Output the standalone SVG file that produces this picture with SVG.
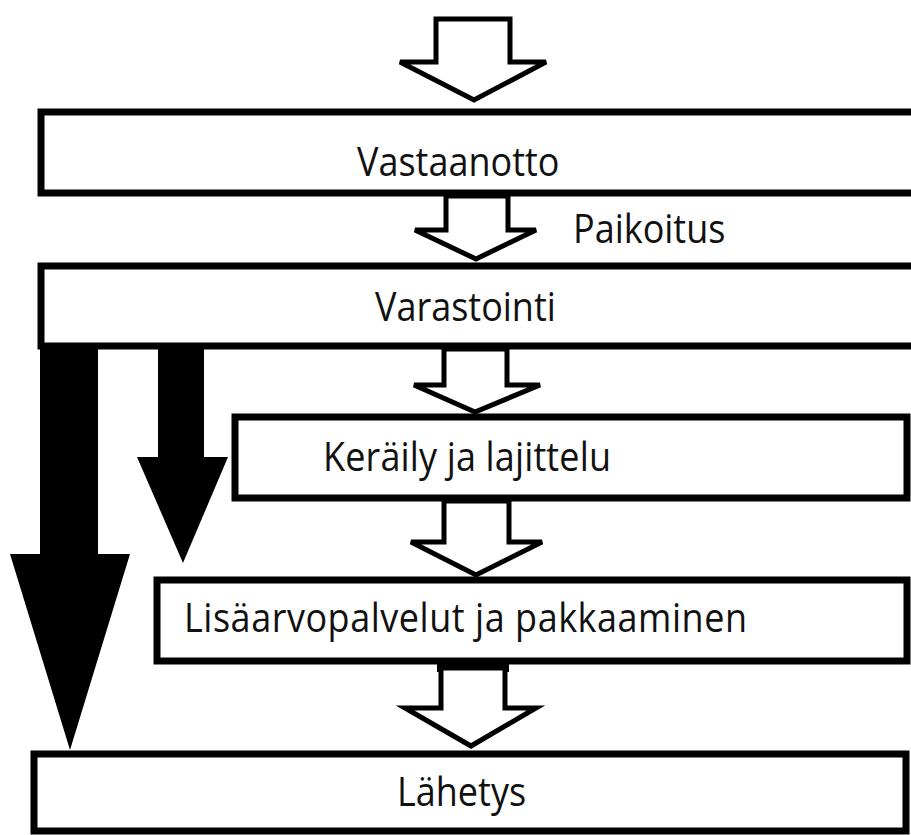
<svg xmlns="http://www.w3.org/2000/svg" width="911" height="835" viewBox="0 0 911 835">
<style>
.box{fill:#fff;stroke:#000;stroke-width:7}
.lbl{font-family:"Open Sans","Noto Sans","Liberation Sans",sans-serif;font-size:36px;fill:#111}
.hollow{fill:#fff;stroke:#000;stroke-width:5;stroke-linejoin:miter}
.solid{fill:#000;stroke:none}
</style>
<rect width="911" height="835" fill="#fff"/>
<g id="n-vastaanotto">
<rect class="box" x="41" y="112" width="880" height="81"/>
<text class="lbl" transform="translate(357,176) scale(1,1.1)">Vastaanotto</text>
</g>
<g id="n-varastointi">
<rect class="box" x="41" y="266" width="880" height="80"/>
<text class="lbl" transform="translate(375,321) scale(1,1.1)">Varastointi</text>
</g>
<g id="n-keraily">
<rect class="box" x="235" y="417" width="672" height="81"/>
<text class="lbl" transform="translate(323,471) scale(1,1.1)" textLength="288">Keräily ja lajittelu</text>
</g>
<g id="n-lisaarvo">
<rect class="box" x="157" y="580" width="750" height="81"/>
<text class="lbl" transform="translate(184,632) scale(1,1.1)" textLength="563">Lisäarvopalvelut ja pakkaaminen</text>
</g>
<g id="n-lahetys">
<rect class="box" x="34" y="754" width="872" height="77"/>
<text class="lbl" transform="translate(397,806) scale(1,1.1)">Lähetys</text>
</g>
<g id="connectors">
<polygon class="hollow" points="436,19 510,19 510,62 546,62 474,100 400,62 436,62"/>
<polygon class="hollow" points="446,196 508,196 508,230 536,230 476,259 415,230 446,230"/>
<polygon class="hollow" points="444,349 507,349 507,385 540,385 475,412 414,385 444,385"/>
<polygon class="hollow" points="444,501 509,501 509,542 542,542 476,575 411,542 444,542"/>
<rect class="solid" x="437" y="661" width="72" height="11"/>
<polygon class="hollow" points="441,668 505,668 505,708 536,708 471,746 405,708 441,708"/>
<text class="lbl" transform="translate(573,243) scale(1,1.1)">Paikoitus</text>
<polygon class="solid" points="40,348 98,348 98,554 130,554 70,750 10,554 40,554"/>
<polygon class="solid" points="158,348 204,348 204,457 228,457 183,563 137,457 158,457"/>
</g>
</svg>
